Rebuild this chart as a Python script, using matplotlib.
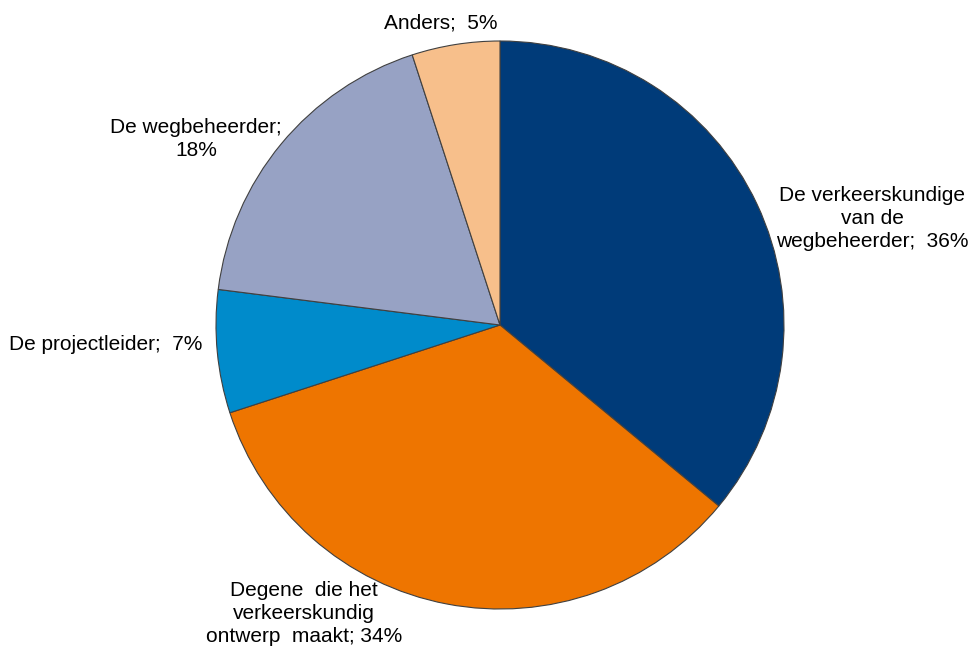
import matplotlib
matplotlib.use("Agg")
from matplotlib import pyplot as plt

# data
labels = ["De verkeerskundige\nvan de\nwegbeheerder;  36%",
          "Degene  die het\nverkeerskundig\nontwerp  maakt; 34%",
          "De projectleider;  7%",
          "De wegbeheerder;\n18%",
          "Anders;  5%"]
values = [36, 34, 7, 18, 5]
colors = ["#003B79", "#EE7500", "#008BCB", "#97A2C4", "#F7BF8B"]

# label positions (pie radius = 1), as Excel placed them
label_pos = [(1.31, 0.375), (-0.69, -1.015), (-1.39, -0.07), (-1.07, 0.655), (-0.21, 1.065)]

plt.rcParams['font.family'] = ['Liberation Sans', 'DejaVu Sans']

fig = plt.figure(figsize=(9.79, 6.54), dpi=100)
ax = fig.add_axes([0, 0, 1, 1])
r_px = 284.0
ax.pie(values, colors=colors, startangle=90, counterclock=False, radius=1,
       wedgeprops=dict(edgecolor="#404040", linewidth=0.8))
for lab, (x, y) in zip(labels, label_pos):
    ax.text(x, y, lab, ha="center", va="center", fontsize=15,
            linespacing=1.25, color="black")

ax.set_xlim(-500 / r_px, 479 / r_px)
ax.set_ylim(-(654 - 325) / r_px, 325 / r_px)
ax.set_aspect("auto")
ax.axis("off")
fig.savefig("out.png", dpi=100)
